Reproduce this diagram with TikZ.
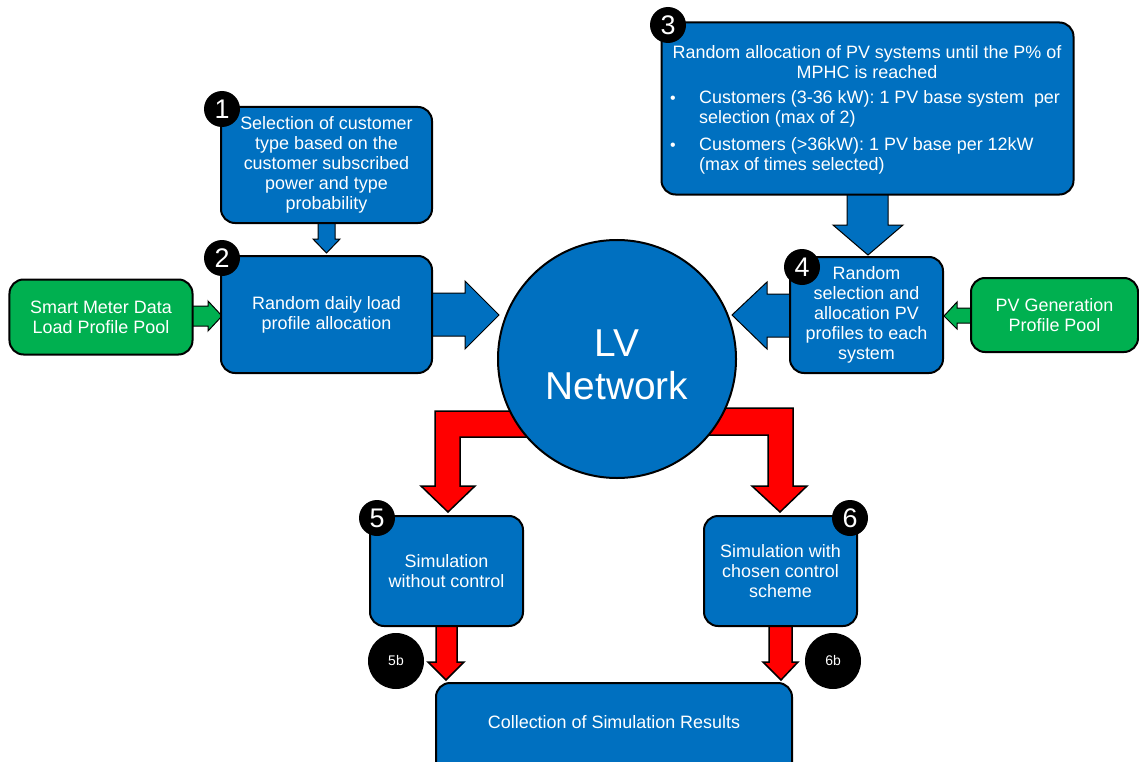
\documentclass[tikz,border=0pt]{standalone}
\usepackage{fontspec}
\setmainfont{Liberation Sans}
\definecolor{pblue}{HTML}{0070C0}
\definecolor{pgreen}{HTML}{00B050}
\definecolor{pred}{HTML}{FF0000}
\begin{document}
\begin{tikzpicture}[x=1bp,y=-1bp,
  every node/.style={font=\fontsize{18}{20}\selectfont, text=white},
  blk/.style={draw=black, line width=2bp, rounded corners=14bp, fill=pblue, align=center, inner sep=2bp},
  gblk/.style={blk, fill=pgreen},
  badge/.style={circle, fill=black, minimum size=36bp, inner sep=0pt, font=\fontsize{27}{27}\selectfont},
  sbadge/.style={circle, fill=black, minimum size=56bp, inner sep=0pt, font=\fontsize{14}{14}\selectfont},
  barrow/.style={draw=black, line width=1bp, fill=pblue, line join=miter},
  garrow/.style={draw=black, line width=1bp, fill=pgreen, line join=miter},
  rarrow/.style={draw=black, line width=1.5bp, fill=pred, line join=miter},
  txt/.style={inner sep=0pt, align=left}]
\useasboundingbox (0,0) rectangle (1139,762);

% red bent arrows leaving the network (drawn first, the circle covers their start)
\draw[rarrow] (560,411) -- (435,411) -- (435,486) -- (421,486) -- (448,512) -- (475,486) -- (460,486) -- (460,437) -- (560,437) -- cycle;
\draw[rarrow] (680,408) -- (793,408) -- (793,486) -- (807,486) -- (780,512) -- (752,486) -- (768,486) -- (768,435) -- (680,435) -- cycle;

% feeding arrows
\draw[barrow] (318,215) -- (335,215) -- (335,239) -- (340,239) -- (326.5,253) -- (313,239) -- (318,239) -- cycle;
\draw[barrow] (425,293) -- (465,293) -- (465,281) -- (499,315) -- (465,349) -- (465,336) -- (425,336) -- cycle;
\draw[barrow] (847,185) -- (888,185) -- (888,225) -- (903,225) -- (868,255) -- (833,225) -- (847,225) -- cycle;
\draw[barrow] (798,294) -- (767,294) -- (767,282) -- (732,315) -- (767,349) -- (767,337) -- (798,337) -- cycle;
\draw[garrow] (185,306) -- (208,306) -- (208,301) -- (222,316) -- (208,331) -- (208,326) -- (185,326) -- cycle;
\draw[garrow] (978,308) -- (957,308) -- (957,302) -- (944,316) -- (957,329) -- (957,323) -- (978,323) -- cycle;

% red arrows to the results
\draw[rarrow] (436,615) -- (436,662) -- (428,662) -- (446,680) -- (464,662) -- (457,662) -- (457,615) -- cycle;
\draw[rarrow] (769,615) -- (769,662) -- (763,662) -- (781,680) -- (798,662) -- (792,662) -- (792,615) -- cycle;

% network
\node[circle, draw=black, line width=2bp, fill=pblue, minimum size=238bp, inner sep=0pt] (lv) at (617,359) {};
\node[align=center, inner sep=0pt, font=\fontsize{39}{43}\selectfont] (lvtext) at (617,365) {LV\\Network};

% process boxes
\node[blk, minimum width=211bp, minimum height=116bp] (b1) at (326.5,165)
  {Selection of customer\\type based on the\\customer subscribed\\power and type\\probability};
\node[blk, minimum width=211bp, minimum height=117bp] (b2) at (326.5,314.5)
  {Random daily load\\profile allocation};
\node[gblk, minimum width=183bp, minimum height=75bp] (sm) at (101,317)
  {Smart Meter Data\\Load Profile Pool};
\node[blk, minimum width=412bp, minimum height=172bp] (b3) at (867.5,108.5) {};
\node[blk, minimum width=153bp, minimum height=116bp] (b4) at (866.5,315)
  {Random\\selection and\\allocation PV\\profiles to each\\system};
\node[gblk, minimum width=167bp, minimum height=74bp] (pv) at (1054.5,315)
  {PV Generation\\Profile Pool};
\node[blk, minimum width=153bp, minimum height=110bp] (b5) at (446.5,571)
  {Simulation\\without control};
\node[blk, minimum width=153bp, minimum height=110bp] (b6) at (780.5,571)
  {Simulation with\\chosen control\\scheme};
\node[blk, minimum width=356bp, minimum height=120bp] (res) at (614,743) {};
\node (restext) at (614,722) {Collection of Simulation Results};

% text of the PV allocation box
\node[inner sep=0pt, align=center] (b3title) at (867,62) {Random allocation of PV systems until the P\% of\\MPHC is reached};
\node[txt, anchor=west, font=\fontsize{16}{16}\selectfont] (b3bul1) at (670,100) {\textbullet};
\node[txt, anchor=north west] (b3it1) at (699,90) {Customers (3-36 kW): 1 PV base system\ \ per\\selection (max of 2)};
\node[txt, anchor=west, font=\fontsize{16}{16}\selectfont] (b3bul2) at (670,147) {\textbullet};
\node[txt, anchor=north west] (b3it2) at (699,137) {Customers (>36kW): 1 PV base per 12kW\\(max of times selected)};

% step badges
\node[badge] (n1) at (222,109) {1};
\node[badge] (n2) at (222,258) {2};
\node[badge] (n3) at (668,25) {3};
\node[badge] (n4) at (802,267) {4};
\node[badge] (n5) at (377,518) {5};
\node[badge] (n6) at (850,518) {6};
\node[sbadge] (n5b) at (396,661) {5b};
\node[sbadge] (n6b) at (833,661) {6b};
\end{tikzpicture}
\end{document}
